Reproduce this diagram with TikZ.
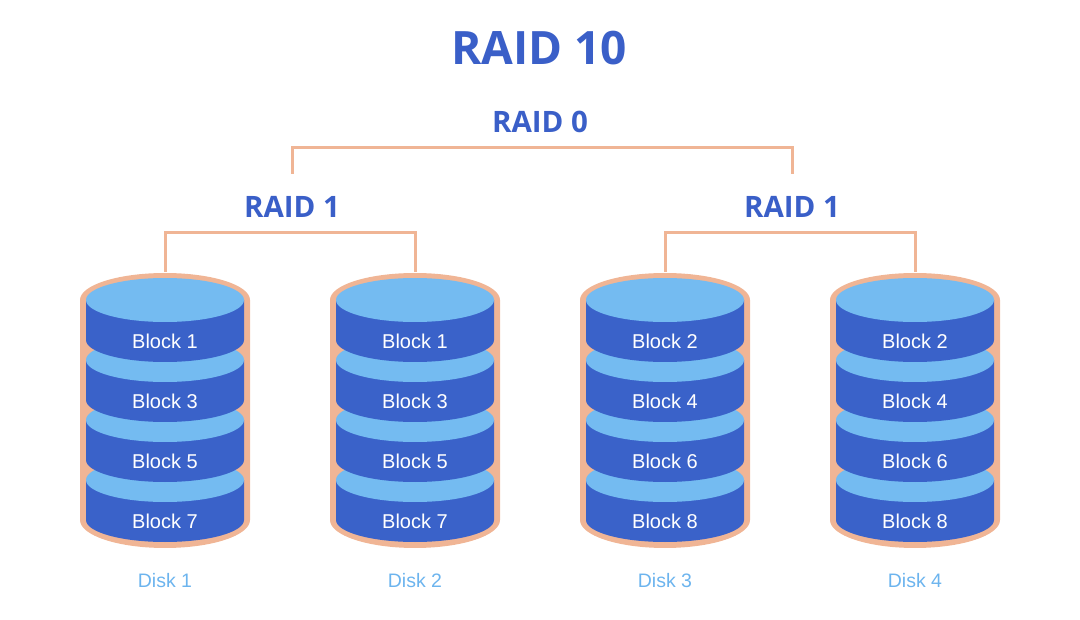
\documentclass[tikz,border=0pt]{standalone}
\usepackage{fontspec}
\setmainfont{Liberation Sans}
\newfontfamily\titlefont{Open Sans}
\definecolor{peach}{HTML}{F0B595}
\definecolor{dblue}{HTML}{3A62C9}
\definecolor{lblue}{HTML}{74BBF1}
\definecolor{tblue}{HTML}{3A5FC8}
\definecolor{dlab}{HTML}{6CB4EE}
\tikzset{
 conn/.style={peach,line width=3pt},
 ttl/.style={font=\titlefont\bfseries\fontsize{29.5}{32}\selectfont,text=tblue},
 blk/.style={font=\fontsize{20}{23}\selectfont,text=white},
 dsk/.style={font=\fontsize{19.5}{21}\selectfont,text=dlab},
}
\newcommand{\mydisk}[4]{% x, name, labels, disk label
 \fill[peach] (#1-85,-300) -- (#1-85,-520) arc[start angle=180,end angle=360,x radius=85,y radius=28] -- (#1+85,-300) arc[start angle=0,end angle=180,x radius=85,y radius=27] -- cycle;
 \foreach \i/\t in {#3}{
   \pgfmathsetmacro{\yt}{-300-60*\i}
   \fill[dblue] (#1-79,\yt) -- (#1-79,\yt-40) arc[start angle=180,end angle=360,x radius=79,y radius=22] -- (#1+79,\yt) -- cycle;
   \fill[lblue] (#1,\yt) ellipse[x radius=79,y radius=22];
   \node[blk] (#2b\i) at (#1,\yt-41) {Block \t};
 }
 \node[dsk] (#2l) at (#1,-581) {#4};
 \coordinate (#2top) at (#1,-272);
}
\begin{document}
\begin{tikzpicture}[x=1pt,y=1pt]
\useasboundingbox (0,0) rectangle (1080,-620);
\node[font=\titlefont\bfseries\fontsize{46}{50}\selectfont,text=tblue] (t) at (539,-48) {RAID 10};
\node[ttl] (r0) at (540,-122) {RAID 0};
\node[ttl] (r1a) at (292,-207) {RAID 1};
\node[ttl] (r1b) at (792,-207) {RAID 1};
\mydisk{165}{a}{3/7,2/5,1/3,0/1}{Disk 1}
\mydisk{415}{b}{3/7,2/5,1/3,0/1}{Disk 2}
\mydisk{665}{c}{3/8,2/6,1/4,0/2}{Disk 3}
\mydisk{915}{d}{3/8,2/6,1/4,0/2}{Disk 4}
\coordinate (m1) at (292,-174);
\coordinate (m2) at (792,-174);
\draw[conn] (atop) |- (292,-233) -| (btop);
\draw[conn] (ctop) |- (792,-233) -| (dtop);
\draw[conn] (m1) |- (r0.south |- 0,-148) -| (m2);
\end{tikzpicture}
\end{document}
